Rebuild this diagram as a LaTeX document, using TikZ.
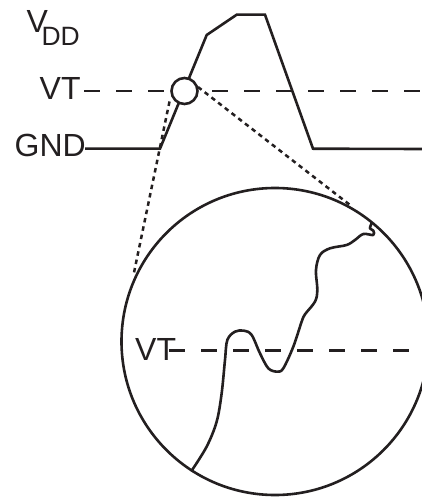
\documentclass[tikz,border=0pt]{standalone}
\usepackage{fontspec}
\setmainfont{Liberation Sans}
\definecolor{ink}{HTML}{231F20}
\tikzset{
  wave/.style={draw=ink,line width=2.6pt,line join=miter},
  ring/.style={circle,draw=ink,line width=2.6pt,fill=white,inner sep=0pt},
  vtdash/.style={draw=ink,line width=2.5pt,dash pattern=on 15.5pt off 16.5pt},
  zoomdot/.style={draw=ink,line width=2.5pt,dash pattern=on 4.5pt off 4pt},
  lbl/.style={anchor=base west,inner sep=0pt,text=ink,font=\fontsize{32}{32}\selectfont}
}
\begin{document}
\begin{tikzpicture}[x=1pt,y=-1pt]
\useasboundingbox (0,0) rectangle (422,497);
\clip (0,0) rectangle (422,497);
% labels
\node[lbl] (vdd) at (26.5,33) {V\kern-6.5pt\raisebox{-12.7pt}{\fontsize{26.5}{26.5}\selectfont DD}};
\node[lbl] (vt1) at (39.5,100) {VT};
\node[lbl] (gnd) at (14.5,156.5) {GND};
\coordinate (vt1end) at (422,91);
\coordinate (gndend) at (422,149);
\coordinate (vt1start) at (84.3,91);
% waveform and threshold
\draw[vtdash] (vt1start) -- (vt1end);
\draw[wave] (85,148.7) -- (160,148.7) -- (206.7,35) -- (236.7,14.7) -- (265,14.7) -- (313,148.7) -- (gndend);
% large and small circles
\node[ring,minimum size=307pt] (big) at (275,341.5) {};
\node[ring,minimum size=26pt] (small) at (184.5,91) {};
% zoom guides
\coordinate (gl) at (133.5,275);
\coordinate (gr) at (350,205);
\draw[zoomdot] (169.5,101.5) -- (gl);
\draw[zoomdot] (198,87) -- (gr);
% inner threshold
\node[lbl] (vt2) at (135,360) {VT};
\coordinate (vt2start) at (169.3,350.7);
\coordinate (vt2end) at (409,350.7);
\draw[vtdash] (vt2start) -- (vt2end);
% magnified edge
\begin{scope}[shift={(120,180)},x=0.3333pt,y=-0.3333pt]
\draw[draw=ink,line width=2.6pt,line cap=round,line join=round] plot[smooth,tension=0.55] coordinates {
(215,872) (260,800) (290,725) (305,640) (315,540) (322,480) (345,455) (372,452) (395,465) (420,520) (445,565) (472,575) (490,565) (520,500) (545,425) (555,403) (585,365) (592,330) (588,270) (600,225) (630,205) (680,195) (705,180) (730,162) (760,165) (760,152) (750,145) (755,130)};
\end{scope}
\end{tikzpicture}
\end{document}
